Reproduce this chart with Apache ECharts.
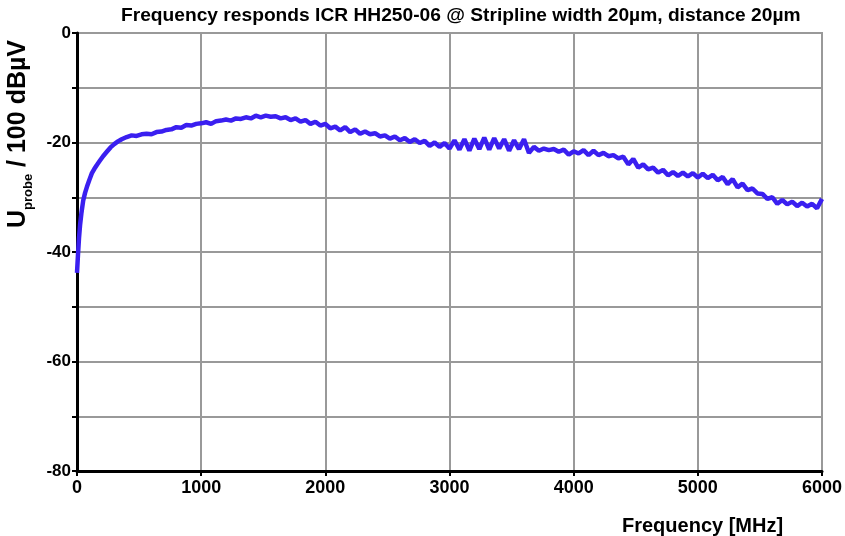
<!DOCTYPE html>
<html>
<head>
<meta charset="utf-8">
<script src="https://cdn.jsdelivr.net/npm/echarts@6/dist/echarts.min.js"></script>
<style>html,body{margin:0;padding:0;background:#fff;}#c{width:845px;height:536px;}</style>
</head>
<body>
<div id="c"></div>
<script>
var titleText = 'Frequency responds ICR HH250-06 @ Stripline width 20\u00b5m, distance 20\u00b5m';
var xName = 'Frequency [MHz]';
var xTicks = [0, 1000, 2000, 3000, 4000, 5000, 6000];
var yTicks = [0, -20, -40, -60, -80];

// low-frequency rise: [MHz, dBuV]
var startPoints = [[0,-43.8],[8,-40.5],[16,-37.5],[25,-35],[35,-33],[50,-30.6],[65,-29.2],[80,-28.1],[100,-26.8],[120,-25.6],[140,-24.8],[160,-24.1],[185,-23.3],[210,-22.5],[240,-21.7],[270,-20.9],[300,-20.3],[330,-19.8],[360,-19.4]];

// from 400 MHz to 6000 MHz, every 40 MHz
var sweepStart = 400, sweepStep = 40;
var sweepValues = [
-19.0,-18.7,-18.8,-18.5,-18.4,-18.5,-18.1,-18.0,-17.7,-17.6,
-17.2,-17.3,-16.8,-16.9,-16.6,-16.5,-16.3,-16.6,-16.1,-16.0,
-15.8,-16.0,-15.6,-15.7,-15.4,-15.6,-15.1,-15.4,-15.1,-15.3,
-15.2,-15.6,-15.4,-15.9,-15.6,-16.2,-15.9,-16.6,-16.2,-16.9,
-16.6,-17.4,-17.1,-17.8,-17.2,-18.1,-17.6,-18.4,-18.0,-18.5,
-18.3,-18.9,-18.7,-19.3,-18.9,-19.6,-19.2,-19.9,-19.4,-20.1,
-19.7,-20.6,-20.0,-20.8,-20.1,-21.1,-19.6,-21.3,-19.4,-21.5,
-19.3,-21.2,-19.1,-21.3,-19.2,-21.1,-19.4,-21.5,-19.6,-21.2,
-19.4,-21.9,-20.8,-21.5,-21.1,-21.4,-21.2,-21.7,-21.3,-22.2,
-21.6,-22.0,-21.4,-22.3,-21.5,-22.3,-21.9,-22.5,-22.3,-22.9,
-22.6,-24.0,-23.0,-24.6,-24.0,-24.9,-24.6,-25.5,-25.0,-26.0,
-25.4,-26.1,-25.5,-26.2,-25.6,-26.4,-25.7,-26.5,-25.9,-26.9,
-26.3,-27.6,-26.7,-28.2,-27.5,-28.7,-28.4,-29.3,-29.4,-30.3,
-30.0,-31.2,-30.5,-31.3,-30.8,-31.6,-31.0,-31.7,-31.2,-32.0,
-30.3
];

var seriesData = startPoints.slice();
for (var i = 0; i < sweepValues.length; i++) {
  seriesData.push([sweepStart + i * sweepStep, sweepValues[i]]);
}

var chart = echarts.init(document.getElementById('c'));
var F = 'Liberation Sans, Arial, sans-serif';
chart.setOption({
  animation: false,
  backgroundColor: '#ffffff',
  title: [
    { text: titleText, left: 116, top: 1, textStyle: { fontFamily: F, fontWeight: 'bold', fontSize: 19.2, color: '#000' } },
    { text: xName, left: 617, top: 511, textStyle: { fontFamily: F, fontWeight: 'bold', fontSize: 20, color: '#000' } }
  ],
  grid: { left: 77, right: 23, top: 33, bottom: 65, containLabel: false, outerBoundsMode: 'none',
    show: true, borderColor: '#999', borderWidth: 2, backgroundColor: '#fff' },
  xAxis: {
    type: 'value', min: 0, max: 6000, interval: 1000,
    axisLine: { show: true, onZero: false, lineStyle: { color: '#000', width: 3 } },
    axisTick: { show: true, length: 5, lineStyle: { color: '#000', width: 2 } },
    axisLabel: { fontFamily: F, fontWeight: 'bold', fontSize: 18, color: '#000', margin: 8,
      formatter: function (v) { return xTicks.indexOf(v) >= 0 ? String(v) : ''; } },
    splitLine: { show: true, lineStyle: { color: '#999', width: 2 } }
  },
  yAxis: {
    type: 'value', min: -80, max: 0, interval: 10,
    axisLine: { show: true, onZero: false, lineStyle: { color: '#000', width: 3 } },
    axisTick: { show: true, length: 5, lineStyle: { color: '#000', width: 2 } },
    axisLabel: { fontFamily: F, fontWeight: 'bold', fontSize: 17, color: '#000', margin: 6,
      formatter: function (v) { return yTicks.indexOf(v) >= 0 ? String(v) : ''; } },
    splitLine: { show: true, lineStyle: { color: '#999', width: 2 } },
    name: '{u|U}{s|probe}{u| / 100 dB\u00b5V}',
    nameLocation: 'middle', nameRotate: 90, nameGap: 46,
    nameTextStyle: {
      padding: [0, 0, 0, 236],
      rich: {
        u: { fontFamily: F, fontWeight: 'bold', fontSize: 25, color: '#000', verticalAlign: 'bottom' },
        s: { fontFamily: F, fontWeight: 'bold', fontSize: 13, color: '#000', verticalAlign: 'bottom', padding: [0, 0, -4, 0] }
      }
    }
  },
  series: [{
    type: 'line', data: seriesData, showSymbol: false, smooth: false,
    lineStyle: { color: '#3a1ff0', width: 4.5 }
  }]
});
</script>
</body>
</html>
